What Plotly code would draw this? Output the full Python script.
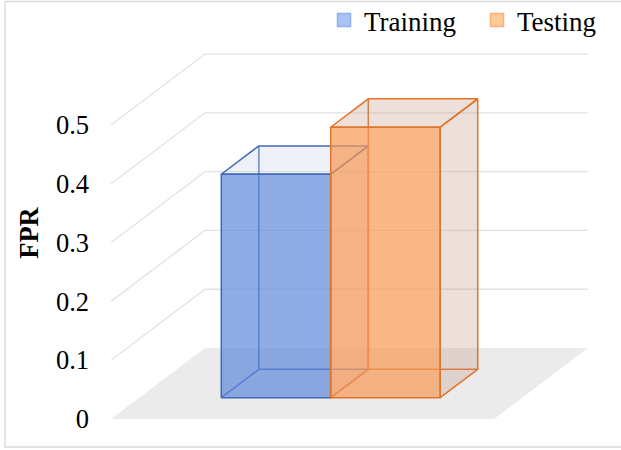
import plotly.graph_objects as go

# ---------------- data ----------------
series_names = ["Training", "Testing"]
fpr_values = [0.38, 0.46]
tick_vals = [0, 0.1, 0.2, 0.3, 0.4, 0.5]
tick_text = ["0", "0.1", "0.2", "0.3", "0.4", "0.5"]
axis_title = "FPR"

# ---------------- styles ----------------
front_fill = ["rgba(95,138,216,0.70)", "rgba(248,152,84,0.70)"]
tint_fill = ["rgba(200,210,230,0.30)", "rgba(195,150,130,0.30)"]
edge_col = ["#4169B8", "#E0742A"]
legend_fill = ["#A9C4F4", "#FDCB9A"]
legend_line = ["#8FB0EA", "#F5B27C"]
FONT = "Liberation Serif, Times New Roman, serif"

# oblique 3-D projection parameters (floor width = 1 x-unit, depth = 1 z-unit)
DX = 0.2454      # x shift per unit of depth
DY = 0.1207      # y shift (value units) per unit of depth
GAP = 1.5        # gap width relative to bar width
Z0, Z1 = 0.3, 0.7  # depth extent of the bars


def proj(X, Z, V):
    return X + Z * DX, V + Z * DY


def poly(points):
    xs, ys = [], []
    for p in points:
        x, y = proj(*p)
        xs.append(x)
        ys.append(y)
    return xs, ys


fig = go.Figure()

# floor
fx, fy = poly([(0, 0, 0), (1, 0, 0), (1, 1, 0), (0, 1, 0), (0, 0, 0)])
fig.add_trace(go.Scatter(x=fx, y=fy, mode="lines", fill="toself",
                         fillcolor="#EBEBEB", line=dict(width=0),
                         hoverinfo="skip", showlegend=False))

# gridlines on left wall and back wall
gx, gy = [], []
for v in tick_vals[1:]:
    xs, ys = poly([(0, 0, v), (0, 1, v), (1, 1, v)])
    gx += xs + [None]
    gy += ys + [None]
fig.add_trace(go.Scatter(x=gx, y=gy, mode="lines",
                         line=dict(color="#E2E2E2", width=1.3),
                         hoverinfo="skip", showlegend=False))

# bars
n = len(fpr_values)
w = 1.0 / (n + GAP)
for i, (name, val) in enumerate(zip(series_names, fpr_values)):
    X0 = GAP / 2 * w + i * w
    X1 = X0 + w
    fbl, fbr, ftl, ftr = (X0, Z0, 0), (X1, Z0, 0), (X0, Z0, val), (X1, Z0, val)
    bbl, bbr, btl, btr = (X0, Z1, 0), (X1, Z1, 0), (X0, Z1, val), (X1, Z1, val)
    lc = dict(color=edge_col[i], width=1.5)

    # hidden edges
    hx, hy = [], []
    for seg in ([bbl, bbr], [bbl, btl], [fbl, bbl]):
        xs, ys = poly(seg)
        hx += xs + [None]
        hy += ys + [None]
    fig.add_trace(go.Scatter(x=hx, y=hy, mode="lines", line=lc,
                             hoverinfo="skip", showlegend=False))
    # right side face
    xs, ys = poly([fbr, bbr, btr, ftr, fbr])
    fig.add_trace(go.Scatter(x=xs, y=ys, mode="lines", fill="toself",
                             fillcolor=tint_fill[i], line=lc,
                             hoverinfo="skip", showlegend=False))
    # top face
    xs, ys = poly([ftl, ftr, btr, btl, ftl])
    fig.add_trace(go.Scatter(x=xs, y=ys, mode="lines", fill="toself",
                             fillcolor=tint_fill[i], line=lc,
                             hoverinfo="skip", showlegend=False))
    # front face
    xs, ys = poly([fbl, fbr, ftr, ftl, fbl])
    fig.add_trace(go.Scatter(x=xs, y=ys, mode="lines", fill="toself",
                             fillcolor=front_fill[i], line=lc,
                             name=name, hoverinfo="name+text",
                             text=[f"{val}"] * 5, showlegend=False))

# legend entries
for i, name in enumerate(series_names):
    fig.add_trace(go.Scatter(x=[None], y=[None], mode="markers", name=name,
                             marker=dict(symbol="square", size=13,
                                         color=legend_fill[i],
                                         line=dict(color=legend_line[i], width=1.5))))

L, R, T, B = 111, 21, 36, 20
W, H = 621, 450
plot_w = W - L - R
plot_h = H - T - B
scale_y = 588.0
v_bottom = -(H - B - 419) / scale_y
v_top = v_bottom + plot_h / scale_y
x_max = plot_w / 383.0

fig.update_layout(
    width=W, height=H,
    margin=dict(l=L, r=R, t=T, b=B, autoexpand=False),
    paper_bgcolor="white", plot_bgcolor="white",
    font=dict(family=FONT, size=26.5, color="black"),
    xaxis=dict(range=[0, x_max], visible=False, fixedrange=True),
    yaxis=dict(range=[v_bottom, v_top], tickvals=tick_vals, ticktext=tick_text,
               showgrid=False, zeroline=False, showline=False, ticks="",
               ticklabelstandoff=21, fixedrange=True,
               tickfont=dict(family=FONT, size=26.5, color="black"),
               title=dict(text=axis_title, standoff=9,
                          font=dict(family=FONT, size=26.5, color="black", weight="bold"))),
    legend=dict(orientation="h", x=(324 - L) / plot_w, xanchor="left",
                y=(H - B + 4) / plot_h, yanchor="top",
                font=dict(family=FONT, size=27, color="black"),
                itemwidth=30, entrywidth=108, bgcolor="rgba(0,0,0,0)"),
    shapes=[dict(type="rect", xref="paper", yref="paper",
                 x0=(5 - L) / plot_w, x1=(630 - L) / plot_w,
                 y0=(H - B - 447) / plot_h, y1=(H - B - 1.5) / plot_h,
                 line=dict(color="#D9D9D9", width=1.3))],
)

fig.write_html("out.html")
